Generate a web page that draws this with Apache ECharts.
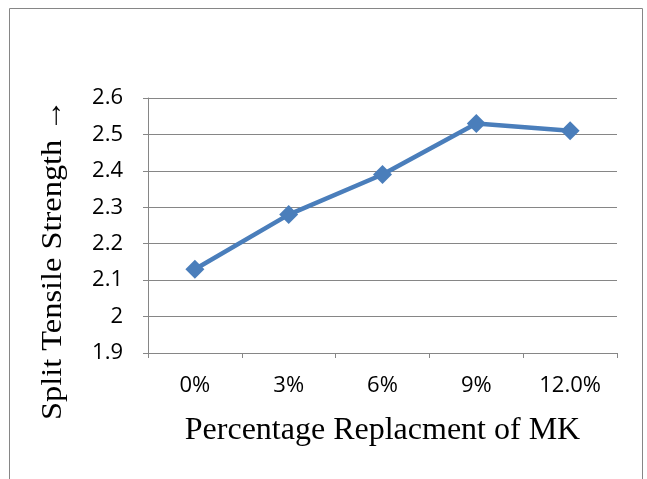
<!DOCTYPE html>
<html>
<head>
<meta charset="utf-8">
<script src="https://cdn.jsdelivr.net/npm/echarts@6/dist/echarts.min.js"></script>
<style>
  html, body { margin: 0; padding: 0; background: #fff; }
  #chart { width: 647px; height: 479px; }
</style>
</head>
<body>
<div id="chart"></div>
<script>
// Split tensile strength against MK replacement level
const categories = ['0%', '3%', '6%', '9%', '12.0%'];
const strengthValues = [2.13, 2.28, 2.39, 2.53, 2.51];
const yMin = 1.9;
const yMax = 2.6;
const yStep = 0.1;
const xTitle = 'Percentage Replacment of MK';
const yTitle = 'Split Tensile Strength \u2192';

const chart = echarts.init(document.getElementById('chart'), null, { renderer: 'canvas' });

const labelFont = '"Open Sans", "Liberation Sans", sans-serif';
const titleFont = '"Liberation Serif", "Times New Roman", serif';

chart.setOption({
  backgroundColor: '#ffffff',
  animation: false,
  graphic: [{
    type: 'rect',
    shape: { x: 9.5, y: 8.5, width: 633, height: 480 },
    style: { fill: 'none', stroke: '#868686', lineWidth: 1 },
    silent: true
  }, {
    // vertical axis title, reading bottom to top, slightly stretched along its length
    type: 'text',
    x: 53,
    y: 420,
    rotation: Math.PI / 2,
    scaleX: 1.08,
    style: {
      text: yTitle,
      fontFamily: titleFont,
      fontSize: 30,
      fill: '#000',
      align: 'left',
      verticalAlign: 'middle'
    },
    silent: true
  }],
  grid: { left: 148, right: 30, top: 98, bottom: 126 },
  xAxis: {
    type: 'category',
    data: categories,
    boundaryGap: true,
    name: xTitle,
    nameLocation: 'middle',
    nameGap: 62,
    nameTextStyle: { fontFamily: titleFont, fontSize: 32, color: '#000' },
    axisLine: { lineStyle: { color: '#868686', width: 1 } },
    axisTick: { show: true, alignWithLabel: false, length: 5, lineStyle: { color: '#868686' } },
    axisLabel: { margin: 22, fontFamily: labelFont, fontSize: 22, color: '#000' },
    splitLine: { show: false }
  },
  yAxis: {
    type: 'value',
    min: yMin,
    max: yMax,
    interval: yStep,
    axisLine: { show: true, lineStyle: { color: '#868686', width: 1 } },
    axisTick: { show: true, length: 5, lineStyle: { color: '#868686' } },
    axisLabel: {
      margin: 25, fontFamily: labelFont, fontSize: 22, color: '#000',
      formatter: v => String(Math.round(v * 10) / 10)
    },
    splitLine: { show: true, lineStyle: { color: '#868686', width: 1 } }
  },
  series: [{
    type: 'line',
    data: strengthValues,
    symbol: 'diamond',
    symbolSize: 19,
    lineStyle: { color: '#4a7ebb', width: 4.5 },
    itemStyle: { color: '#4a7ebb' }
  }]
});
</script>
</body>
</html>
